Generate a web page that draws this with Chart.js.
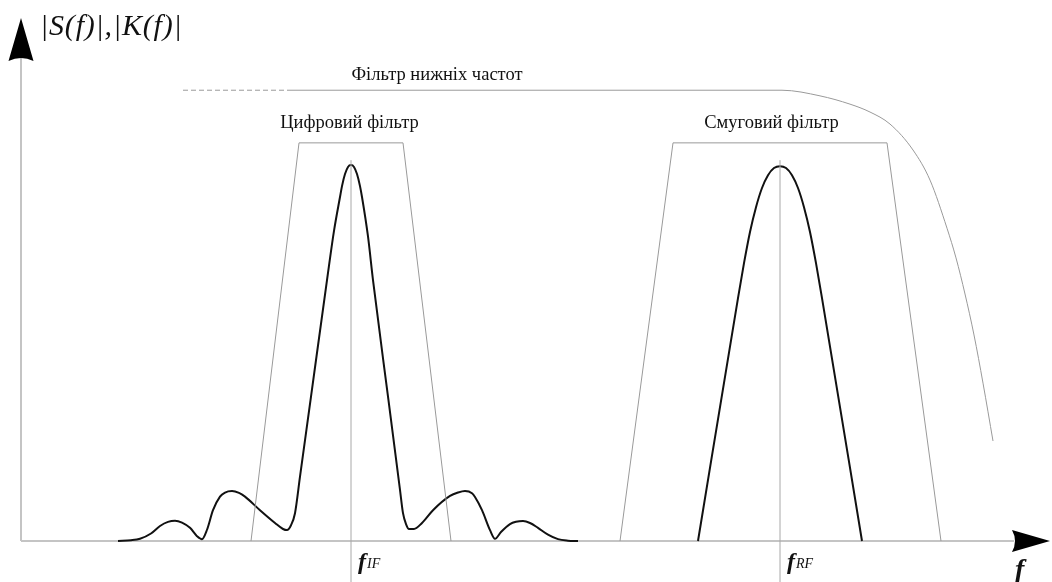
<!DOCTYPE html>
<html lang="uk">
<head>
<meta charset="utf-8">
<title>Спектри сигналів і фільтрів</title>
<script src="https://cdn.jsdelivr.net/npm/chart.js@4.4.1/dist/chart.umd.min.js"></script>
<style>
  html,body{margin:0;padding:0;background:#fff;}
  #wrap{width:1052px;height:582px;}
  canvas{display:block;}
</style>
</head>
<body>
<div id="wrap"><canvas id="spectrum" width="1052" height="582"></canvas></div>
<script>
/* ---------- data (frequency in arbitrary units, amplitude normalised) ---------- */

// IF signal spectrum |S(f)| (sinc-like, digital filter band)
const ifFreq = [0.97,1.10,1.19,1.30,1.39,1.47,1.54,1.61,1.69,1.76,1.81,1.86,1.92,1.99,2.04,2.11,2.18,2.24,2.39,2.54,2.62,2.66,2.70,2.74,2.79,2.90,3.06,3.13,3.19,3.21,3.24,3.27,3.30,
                3.33,3.36,3.39,3.41,3.47,3.52,3.675,3.79,3.82,3.85,3.88,3.93,4.01,4.12,4.29,4.37,4.44,4.51,4.54,4.61,4.69,4.74,4.80,4.89,4.95,5.02,5.09,5.17,5.27,5.37,5.47,5.57];
const ifAmp  = [0,0.002,0.006,0.02,0.04,0.051,0.054,0.049,0.035,0.013,0.005,0.03,0.082,0.118,0.129,0.133,0.128,0.118,0.082,0.048,0.032,0.029,0.042,0.074,0.171,0.384,0.694,0.825,0.915,0.944,0.976,0.995,1.0,
                0.995,0.976,0.944,0.915,0.810,0.694,0.374,0.136,0.074,0.045,0.032,0.032,0.048,0.082,0.12,0.129,0.133,0.127,0.117,0.082,0.029,0.006,0.024,0.045,0.051,0.053,0.048,0.035,0.017,0.005,0.001,0];

// RF signal spectrum
const rfFreq = [6.77,7.17,7.23,7.29,7.35,7.41,7.47,7.53,7.59,7.65,7.71,7.77,7.83,7.89,7.95,8.01,8.41];
const rfAmp  = [0,0.646,0.739,0.822,0.888,0.939,0.973,0.992,0.997,0.992,0.973,0.939,0.888,0.822,0.739,0.646,0];

// digital filter |K(f)|
const digitalFreq = [2.30,2.78,3.82,4.30];
const digitalGain = [0,1.059,1.059,0];

// band-pass filter
const bandFreq = [5.99,6.52,8.66,9.20];
const bandGain = [0,1.059,1.059,0];

// low-pass filter (dashed start, then solid with roll-off)
const lowDashFreq = [1.62,2.69];
const lowDashGain = [1.199,1.199];
const lowFreq = [2.69,7.61,7.99,8.29,8.49,8.69,8.92,9.09,9.26,9.35,9.44,9.53,9.62,9.72];
const lowGain = [1.199,1.199,1.184,1.162,1.141,1.109,1.040,0.960,0.832,0.753,0.657,0.548,0.420,0.266];

// centre frequencies and their labels
const centreFreqs = [3.30,7.59];
const centreSubs  = ['IF','RF'];
const filterNames = ['Фільтр нижніх частот','Цифровий фільтр','Смуговий фільтр'];

/* ---------- layout of decorations (data units) ---------- */
const X_MIN = 0, X_MAX = 10.31, Y_MIN = -0.109, Y_MAX = 1.439;
const nameAnchors = [[4.16,1.226],[3.285,1.098],[7.505,1.098]];
const centreTop = 1.013;

function pts(xs, ys){ return xs.map((x,i) => ({x:x, y:ys[i]})); }

const thinGray = '#9a9a9a';

const datasets = [];
centreFreqs.forEach(f => {
  datasets.push({ data: pts([f,f],[Y_MIN,centreTop]), borderColor:'#a8a8a8', borderWidth:1 });
});
datasets.push({ data: pts(digitalFreq,digitalGain), borderColor:thinGray, borderWidth:1 });
datasets.push({ data: pts(bandFreq,bandGain), borderColor:thinGray, borderWidth:1 });
datasets.push({ data: pts(lowDashFreq,lowDashGain), borderColor:thinGray, borderWidth:1, borderDash:[5,3] });
datasets.push({ data: pts(lowFreq,lowGain), borderColor:thinGray, borderWidth:1, cubicInterpolationMode:'monotone' });
datasets.push({ data: pts(ifFreq,ifAmp), borderColor:'#111', borderWidth:2, cubicInterpolationMode:'monotone' });
datasets.push({ data: pts(rfFreq,rfAmp), borderColor:'#111', borderWidth:2, cubicInterpolationMode:'monotone' });

const serif = '"Liberation Serif","DejaVu Serif",serif';

const axesPlugin = {
  id:'axes',
  beforeDatasetsDraw(chart){
    const ctx = chart.ctx, xs = chart.scales.x, ys = chart.scales.y;
    const x0 = xs.getPixelForValue(0), y0 = ys.getPixelForValue(0);
    const yTip = ys.getPixelForValue(1.391), xTip = xs.getPixelForValue(10.29);
    ctx.save();
    ctx.strokeStyle = '#c4c4c4';
    ctx.lineWidth = 2;
    ctx.beginPath();
    ctx.moveTo(x0, y0); ctx.lineTo(x0, yTip + 40);
    ctx.moveTo(x0, y0); ctx.lineTo(xTip - 36, y0);
    ctx.stroke();
    // arrow heads
    ctx.fillStyle = '#000';
    ctx.beginPath();
    ctx.moveTo(x0, yTip);
    ctx.lineTo(x0 + 12.5, yTip + 43);
    ctx.quadraticCurveTo(x0, yTip + 37, x0 - 12.5, yTip + 43);
    ctx.closePath();
    ctx.fill();
    ctx.beginPath();
    ctx.moveTo(xTip, y0);
    ctx.lineTo(xTip - 38, y0 - 11);
    ctx.quadraticCurveTo(xTip - 32, y0, xTip - 38, y0 + 11);
    ctx.closePath();
    ctx.fill();
    ctx.restore();
  },
  afterDatasetsDraw(chart){
    const ctx = chart.ctx, xs = chart.scales.x, ys = chart.scales.y;
    ctx.save();
    ctx.fillStyle = '#111';
    ctx.textBaseline = 'alphabetic';
    // filter names
    ctx.font = '18.5px ' + serif;
    ctx.textAlign = 'center';
    filterNames.forEach((t,i) => {
      ctx.fillText(t, xs.getPixelForValue(nameAnchors[i][0]), ys.getPixelForValue(nameAnchors[i][1]));
    });
    // y axis title
    ctx.textAlign = 'left';
    ctx.font = 'italic 30px ' + serif;
    ctx.letterSpacing = '0.8px';
    ctx.fillText('|S(f)|,|K(f)|', xs.getPixelForValue(0.19), ys.getPixelForValue(1.346));
    ctx.letterSpacing = '0px';
    // centre frequency labels
    centreFreqs.forEach((f,i) => {
      const px = xs.getPixelForValue(f) + 7, py = ys.getPixelForValue(-0.075);
      ctx.font = 'italic bold 24px ' + serif;
      ctx.fillText('f', px, py);
      const w = ctx.measureText('f').width;
      ctx.font = 'italic 14px ' + serif;
      ctx.fillText(centreSubs[i], px + w + 1, py - 1);
    });
    // x axis title
    ctx.font = 'italic bold 28px ' + serif;
    ctx.fillText('f', xs.getPixelForValue(9.94), ys.getPixelForValue(-0.098));
    ctx.restore();
  }
};

new Chart(document.getElementById('spectrum'), {
  type:'scatter',
  data:{ datasets },
  options:{
    responsive:false,
    animation:false,
    devicePixelRatio:1,
    showLine:true,
    layout:{ padding:{ left:21, right:0, top:0, bottom:0 } },
    elements:{ point:{ radius:0 }, line:{ fill:false } },
    plugins:{ legend:{ display:false }, tooltip:{ enabled:false } },
    scales:{
      x:{ type:'linear', min:X_MIN, max:X_MAX, display:false },
      y:{ type:'linear', min:Y_MIN, max:Y_MAX, display:false }
    }
  },
  plugins:[axesPlugin]
});
</script>
</body>
</html>
